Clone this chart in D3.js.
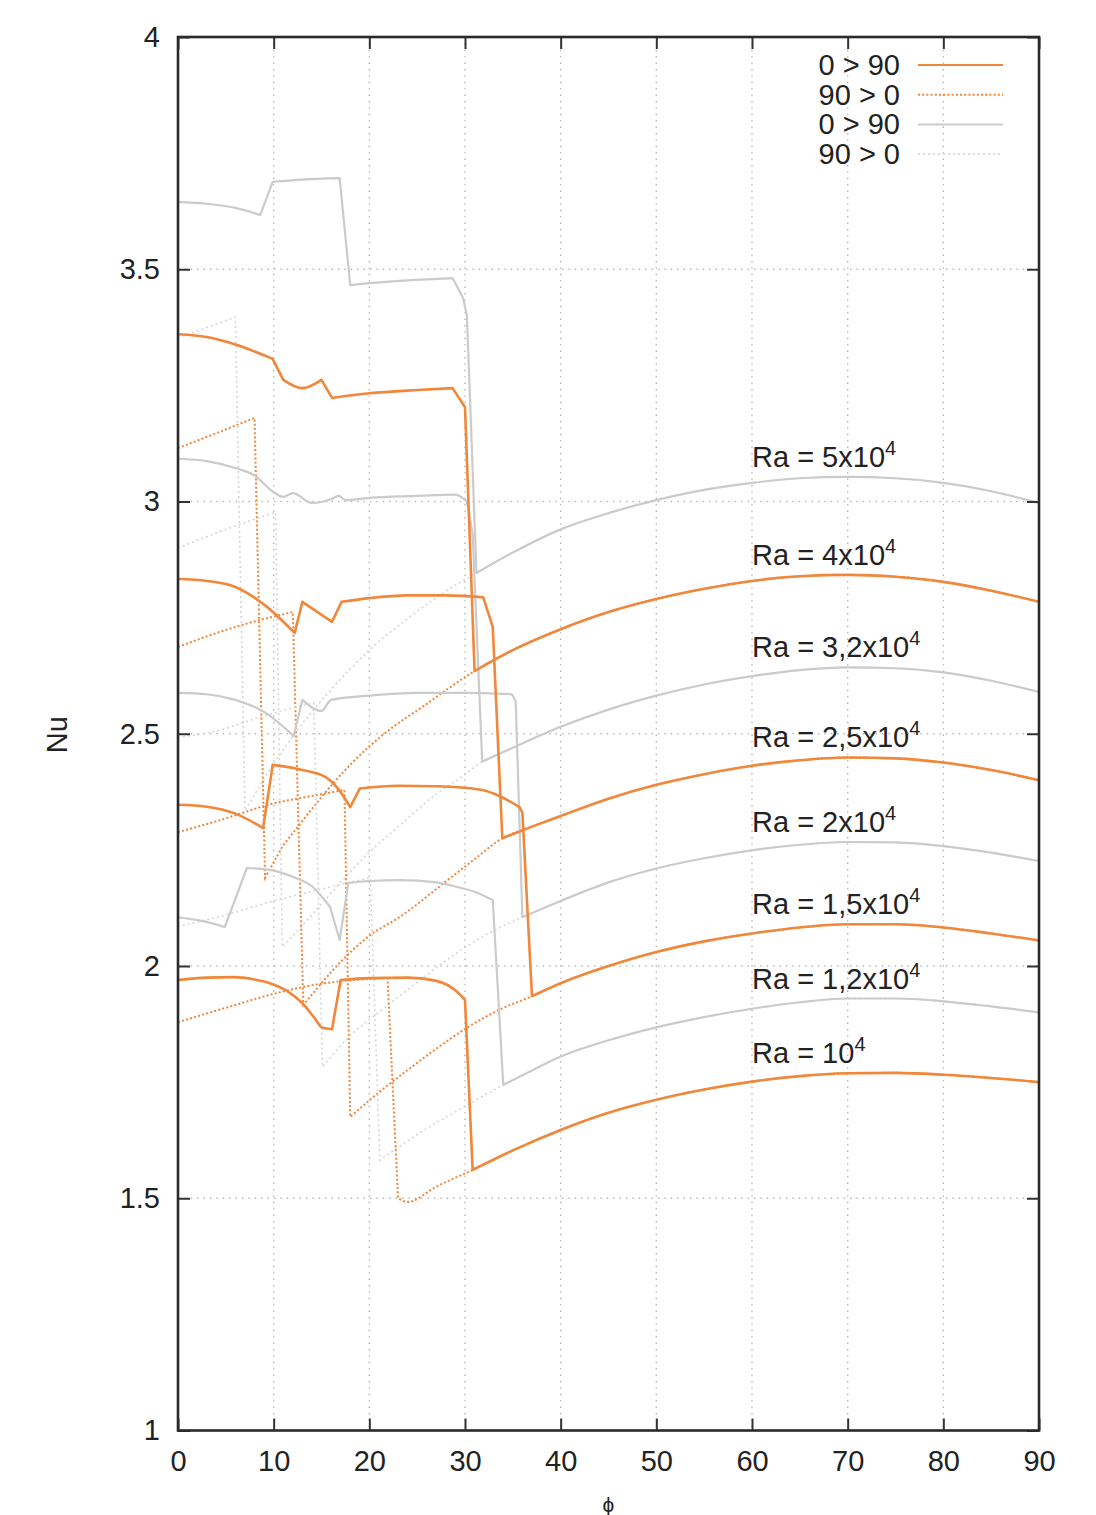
<!DOCTYPE html>
<html>
<head>
<meta charset="utf-8">
<script src="https://cdn.jsdelivr.net/npm/d3@7"></script>
<style>
  body { margin: 0; background: #fff; }
  text { font-family: "Liberation Sans", Arial, sans-serif; fill: #222; }
</style>
</head>
<body>
<script>
// axis ticks
const phiTicks = [0, 10, 20, 30, 40, 50, 60, 70, 80, 90];
const nuTicks = [1, 1.5, 2, 2.5, 3, 3.5, 4];

// labels of each Ra curve (mantissa, exponent 4 shown as superscript)
const raLabels = ["Ra = 5x10", "Ra = 4x10", "Ra = 3,2x10", "Ra = 2,5x10", "Ra = 2x10", "Ra = 1,5x10", "Ra = 1,2x10", "Ra = 10"];
const legendLabels = ["0 > 90", "90 > 0", "0 > 90", "90 > 0"];

// [phi, Nu] points
// up = 0 > 90 before the jump, down = 90 > 0 before it joins the branch, branch = common right part
// Ra = 5x10^4
const up50 = [[0, 3.645], [3, 3.641], [6, 3.632], [8.6, 3.617], [9.9, 3.688], [13, 3.693], [16.9, 3.696], [18, 3.466], [20, 3.47], [24, 3.476], [28.7, 3.481], [29.8, 3.438], [30.2, 3.40]];
const down50 = [[0, 3.352], [6, 3.397], [7, 2.335], [9.5, 2.42], [12.2, 2.50], [16, 2.595], [20, 2.68], [23.5, 2.74], [26.8, 2.79], [29, 2.82]];
const branch50 = [[31.2, 2.846], [35, 2.89], [40, 2.94], [45, 2.975], [50, 3.003], [55, 3.025], [60, 3.04], [65, 3.05], [70, 3.053], [75, 3.05], [80, 3.04], [85, 3.022], [90, 2.997]];
// Ra = 4x10^4
const up40 = [[0, 3.36], [3, 3.354], [6, 3.338], [9.9, 3.307], [11, 3.262], [13, 3.244], [15, 3.262], [16.1, 3.223], [20, 3.233], [25, 3.24], [28.7, 3.244], [30, 3.203]];
const down40 = [[0, 3.115], [4, 3.147], [8, 3.18], [9.1, 2.19], [11, 2.26], [13.3, 2.32], [16.5, 2.40], [19.9, 2.471], [22.7, 2.518], [25.5, 2.557], [28.3, 2.598]];
const branch40 = [[31, 2.635], [35, 2.68], [40, 2.725], [45, 2.762], [50, 2.79], [55, 2.812], [60, 2.829], [65, 2.839], [70, 2.842], [75, 2.838], [80, 2.827], [85, 2.808], [90, 2.784]];
// Ra = 3,2x10^4
const up32 = [[0, 3.092], [3, 3.087], [6, 3.072], [8, 3.056], [10, 3.02], [11, 3.01], [12, 3.018], [14, 2.997], [16, 3.005], [16.8, 3.012], [17.5, 3.003], [20, 3.008], [25, 3.012], [29, 3.015], [30.2, 3.0], [30.8, 2.93]];
const down32 = [[0, 2.90], [5, 2.94], [10.2, 2.977], [10.9, 2.041], [14, 2.11], [17, 2.18], [20, 2.245], [23.3, 2.305], [27, 2.37], [29.5, 2.405]];
const branch32 = [[31.8, 2.44], [35, 2.47], [40, 2.515], [45, 2.552], [50, 2.582], [55, 2.606], [60, 2.624], [65, 2.637], [70, 2.643], [75, 2.641], [80, 2.632], [85, 2.614], [90, 2.59]];
// Ra = 2,5x10^4
const up25 = [[0, 2.833], [3, 2.829], [6, 2.816], [9, 2.778], [12.2, 2.717], [13, 2.784], [16.1, 2.741], [17.1, 2.784], [20, 2.792], [24, 2.798], [28, 2.798], [31.9, 2.794], [32.9, 2.73]];
const down25 = [[0, 2.687], [6, 2.73], [12, 2.762], [13.1, 1.916], [17.2, 2.013], [20, 2.065], [23.2, 2.106], [28.5, 2.19], [31, 2.23]];
const branch25 = [[33.9, 2.275], [37, 2.30], [40, 2.323], [45, 2.36], [50, 2.39], [55, 2.413], [60, 2.431], [65, 2.443], [70, 2.449], [75, 2.447], [80, 2.438], [85, 2.422], [90, 2.40]];
// Ra = 2x10^4
const up20 = [[0, 2.588], [3, 2.585], [6, 2.573], [9, 2.547], [12.1, 2.495], [13, 2.573], [15, 2.549], [16, 2.573], [20, 2.582], [25, 2.588], [30, 2.588], [34.9, 2.585], [35.3, 2.57]];
const down20 = [[0, 2.492], [4.4, 2.508], [8, 2.532], [12.4, 2.558], [14.2, 2.566], [15.1, 1.783], [18, 1.85], [21.6, 1.91], [25, 1.965], [28.1, 2.013], [32, 2.065]];
const branch20 = [[36, 2.105], [40, 2.14], [45, 2.18], [50, 2.21], [55, 2.232], [60, 2.249], [65, 2.261], [70, 2.267], [75, 2.266], [80, 2.258], [85, 2.244], [90, 2.226]];
// Ra = 1,5x10^4
const up15 = [[0, 2.347], [3, 2.343], [6, 2.328], [8.9, 2.297], [9.9, 2.433], [13, 2.422], [15.4, 2.407], [16.6, 2.385], [18, 2.342], [19, 2.382], [23, 2.388], [27, 2.387], [31.8, 2.379], [33.7, 2.365], [35.7, 2.342], [36, 2.33]];
const down15 = [[0, 2.288], [4.4, 2.314], [10, 2.35], [14, 2.366], [17.4, 2.379], [18, 1.675], [21, 1.728], [24, 1.776], [27, 1.822], [30.2, 1.867], [33.5, 1.905]];
const branch15 = [[37, 1.935], [40, 1.963], [45, 2.0], [50, 2.03], [55, 2.053], [60, 2.07], [65, 2.083], [70, 2.09], [75, 2.09], [80, 2.083], [85, 2.07], [90, 2.055]];
// Ra = 1,2x10^4
const up12 = [[0, 2.105], [2.5, 2.097], [4.9, 2.084], [7.2, 2.211], [9.6, 2.207], [12, 2.192], [14.1, 2.17], [15.9, 2.127], [16.9, 2.056], [17.8, 2.179], [20, 2.183], [23.2, 2.185], [27, 2.18], [29.2, 2.17], [31, 2.16], [32.9, 2.142]];
const down12 = [[0, 2.085], [5, 2.11], [10, 2.14], [15.9, 2.17], [20.1, 2.19], [21.1, 1.582], [25, 1.637], [30, 1.698]];
const branch12 = [[34, 1.744], [37, 1.775], [40, 1.805], [45, 1.84], [50, 1.868], [55, 1.89], [60, 1.908], [65, 1.922], [70, 1.93], [75, 1.93], [80, 1.924], [85, 1.913], [90, 1.90]];
// Ra = 10^4
const up10 = [[0, 1.97], [3, 1.975], [5.7, 1.976], [8, 1.971], [9.6, 1.963], [11.5, 1.945], [13, 1.92], [14.2, 1.89], [15.1, 1.867], [16.1, 1.864], [17, 1.97], [20, 1.974], [24, 1.975], [27, 1.968], [29.2, 1.944], [30, 1.927]];
const down10 = [[0, 1.879], [5, 1.91], [10, 1.94], [15, 1.962], [21.9, 1.974], [23, 1.50], [24, 1.492], [27, 1.525]];
const branch10 = [[30.8, 1.561], [35, 1.603], [40, 1.647], [45, 1.684], [50, 1.712], [55, 1.734], [60, 1.751], [65, 1.763], [70, 1.769], [75, 1.77], [80, 1.766], [85, 1.759], [90, 1.75]];

const ORANGE = "#f0873a", GRAY = "#cbcbcb", GRAY_DOT = "#d6d6d6";

// curves, from the highest Ra down; colours alternate gray / orange
const curves = [
    [up50, down50, branch50], [up40, down40, branch40], [up32, down32, branch32], [up25, down25, branch25],
    [up20, down20, branch20], [up15, down15, branch15], [up12, down12, branch12], [up10, down10, branch10]
].map((c, i) => ({
    up: c[0].concat(c[2]),
    down: c[1].concat(c[2]),
    branch: c[2],
    label: raLabels[i],
    orange: i % 2 === 1
}));

const Width = 1096, Height = 1515;
const Left = 178, Right = 1039, Top = 37, Bottom = 1430.5;
const FONT = 29;

const svg = d3.select(document.body).append("svg")
    .attr("width", Width).attr("height", Height);

const xScale = d3.scaleLinear().domain([0, 90]).range([Left, Right]);
const yScale = d3.scaleLinear().domain([1, 4]).range([Bottom, Top]);

// dotted grid
const grid = svg.append("g").attr("stroke", "#b4b4b4").attr("stroke-width", 1.4).attr("stroke-dasharray", "1.4 5");
grid.selectAll(".gx").data(phiTicks.slice(1, -1)).enter().append("line")
    .attr("x1", d => xScale(d)).attr("x2", d => xScale(d))
    .attr("y1", Top).attr("y2", Bottom);
grid.selectAll(".gy").data(nuTicks.slice(1, -1)).enter().append("line")
    .attr("y1", d => yScale(d)).attr("y2", d => yScale(d))
    .attr("x1", Left).attr("x2", Right);

// steep steps (jumps, zigzags) stay straight, gentle runs are smoothed
const smooth = d3.line().x(d => xScale(d[0])).y(d => yScale(d[1])).curve(d3.curveMonotoneX);
const steep = (a, b) => Math.abs(yScale(b[1]) - yScale(a[1])) / Math.abs(xScale(b[0]) - xScale(a[0])) > 1.5;
const pathOf = pts => {
    const runs = [[pts[0]]];
    for (let i = 1; i < pts.length; i++) {
        if (steep(pts[i - 1], pts[i])) runs.push([pts[i]]);
        else runs[runs.length - 1].push(pts[i]);
    }
    // a one-point run comes back as "M..Z": drop the Z, and join the runs into one path
    return runs.map((r, k) => {
        const s = smooth(r).replace(/Z$/, "");
        return k === 0 ? s : s.replace(/^M/, "L");
    }).join("");
};

// 90 > 0 (dotted) under the solid ones
svg.append("g").selectAll("path").data(curves).enter().append("path")
    .attr("d", d => pathOf(d.down))
    .attr("fill", "none")
    .attr("stroke", d => d.orange ? ORANGE : GRAY_DOT)
    .attr("stroke-width", d => d.orange ? 2 : 1.6)
    .attr("stroke-dasharray", d => d.orange ? "2 2.2" : "2 3");

// 0 > 90 solid, gray first then orange
const solids = curves.filter(d => !d.orange).concat(curves.filter(d => d.orange));
svg.append("g").selectAll("path").data(solids).enter().append("path")
    .attr("d", d => pathOf(d.up))
    .attr("fill", "none")
    .attr("stroke", d => d.orange ? ORANGE : GRAY)
    .attr("stroke-width", d => d.orange ? 2.6 : 2.2)
    .attr("stroke-linejoin", "round");

// Ra labels above the maximum of each branch
const lab = svg.append("g").selectAll("text").data(curves).enter().append("text")
    .attr("x", xScale(60))
    .attr("y", d => yScale(d3.max(d.branch, p => p[1])) - 10)
    .attr("font-size", FONT);
lab.append("tspan").text(d => d.label);
lab.append("tspan").attr("dy", -12).attr("font-size", 20).text("4");

// axes with inward ticks
const styleAxis = g => {
    g.select(".domain").remove();
    g.selectAll("line").attr("stroke", "#333").attr("stroke-width", 2);
    g.selectAll("text").attr("font-size", FONT).attr("font-family", "Liberation Sans, Arial, sans-serif").attr("fill", "#222");
};
svg.append("g").attr("transform", "translate(" + Left + ",0)")
    .call(d3.axisLeft(yScale).tickValues(nuTicks).tickSizeInner(-12).tickSizeOuter(0).tickPadding(18).tickFormat(d => String(d)))
    .call(styleAxis);
svg.append("g").attr("transform", "translate(" + Right + ",0)")
    .call(d3.axisRight(yScale).tickValues(nuTicks).tickSizeInner(-12).tickSizeOuter(0).tickFormat(""))
    .call(styleAxis);
svg.append("g").attr("transform", "translate(0," + Bottom + ")")
    .call(d3.axisBottom(xScale).tickValues(phiTicks).tickSizeInner(-12).tickSizeOuter(0).tickPadding(20))
    .call(styleAxis);
svg.append("g").attr("transform", "translate(0," + Top + ")")
    .call(d3.axisTop(xScale).tickValues(phiTicks).tickSizeInner(-12).tickSizeOuter(0).tickFormat(""))
    .call(styleAxis);

// frame
svg.append("rect")
    .attr("x", Left).attr("y", Top)
    .attr("width", Right - Left).attr("height", Bottom - Top)
    .attr("fill", "none").attr("stroke", "#2a2a2a").attr("stroke-width", 2.6);

// axis titles
svg.append("text")
    .attr("transform", "translate(67," + ((Top + Bottom) / 2 + 1) + ") rotate(-90)")
    .attr("text-anchor", "middle")
    .attr("font-size", FONT)
    .text("Nu");
svg.append("text")
    .attr("x", (Left + Right) / 2).attr("y", 1512)
    .attr("text-anchor", "middle")
    .attr("font-size", 21)
    .attr("font-family", "DejaVu Serif, serif")
    .text("ϕ");

// legend
const legendStyle = [
    {color: ORANGE, width: 2.2, dash: null},
    {color: ORANGE, width: 2, dash: "2 2.2"},
    {color: GRAY, width: 2, dash: null},
    {color: GRAY_DOT, width: 1.6, dash: "2 3"}
];
const leg = svg.append("g").selectAll("g").data(legendLabels).enter().append("g")
    .attr("transform", (d, i) => "translate(0," + (65 + i * 29.7) + ")");
leg.append("text")
    .attr("x", 900).attr("y", 10)
    .attr("text-anchor", "end")
    .attr("font-size", FONT)
    .text(d => d);
leg.append("line")
    .attr("x1", 918).attr("x2", 1003)
    .attr("stroke", (d, i) => legendStyle[i].color)
    .attr("stroke-width", (d, i) => legendStyle[i].width)
    .attr("stroke-dasharray", (d, i) => legendStyle[i].dash);
</script>
</body>
</html>
